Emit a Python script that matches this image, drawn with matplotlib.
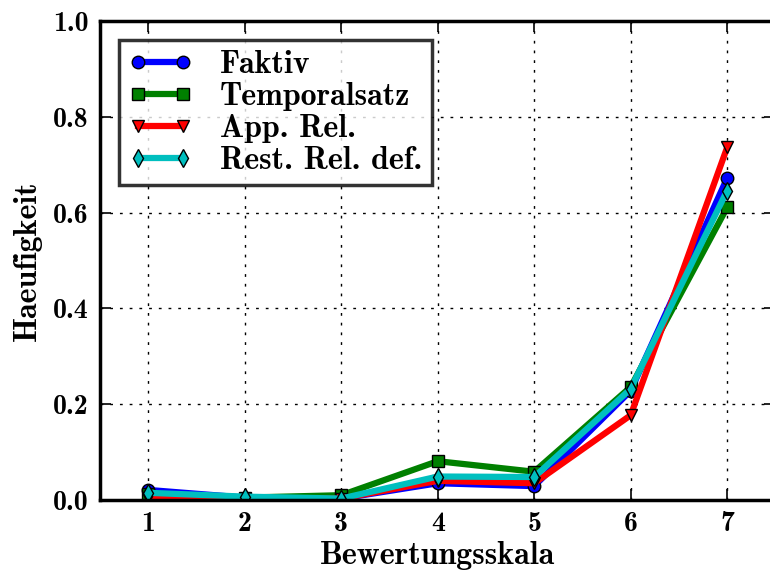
import matplotlib
matplotlib.use('Agg')
import matplotlib.pyplot as plt

plt.rcParams['font.family'] = ['cmb10', 'DejaVu Serif']
plt.rcParams['axes.formatter.use_mathtext'] = False

skala = [1, 2, 3, 4, 5, 6, 7]
faktiv = [0.021, 0.005, 0.003, 0.035, 0.029, 0.228, 0.672]
temporalsatz = [0.012, 0.005, 0.010, 0.081, 0.059, 0.236, 0.611]
app_rel = [0.005, 0.003, 0.003, 0.040, 0.035, 0.177, 0.736]
rest_rel_def = [0.015, 0.007, 0.003, 0.049, 0.048, 0.232, 0.646]

series = [
    ('Faktiv', faktiv, 'b', 'o'),
    ('Temporalsatz', temporalsatz, 'g', 's'),
    ('App. Rel.', app_rel, 'r', 'v'),
    ('Rest. Rel. def.', rest_rel_def, 'c', 'd'),
]

fig = plt.figure(figsize=(7.7, 5.73), dpi=100)
ax = fig.add_axes([0.13, 0.1274, 0.877, 0.836])

for name, vals, col, mk in series:
    ax.plot(skala, vals, color=col, lw=4.5, marker=mk, ms=9,
            mec='k', mew=1, label=name)

ax.set_xlim(0.5, 7.5)
ax.set_ylim(0, 1.0)
ax.set_xticks(skala)
ax.set_yticks([0, 0.2, 0.4, 0.6, 0.8, 1.0])
ax.set_yticklabels(['0.0', '0.2', '0.4', '0.6', '0.8', '1.0'])
ax.grid(True, color='k', linestyle=(0, (2, 5)), lw=1)
ax.tick_params(direction='in', length=8, width=1.2, top=True, right=True,
               labelsize=20, pad=8)
for sp in ax.spines.values():
    sp.set_linewidth(2.5)

ax.set_xlabel('Bewertungsskala', fontsize=23, labelpad=3)
ax.set_ylabel('Haeufigkeit', fontsize=23, labelpad=8)

leg = ax.legend(loc='upper left', numpoints=2, fontsize=23, frameon=True,
                fancybox=False, borderaxespad=0.6, handlelength=2.0,
                labelspacing=0.1, handletextpad=0.85, borderpad=0.3)
leg.get_frame().set_edgecolor('k')
leg.get_frame().set_linewidth(2.5)

fig.savefig('out.png', dpi=100)
